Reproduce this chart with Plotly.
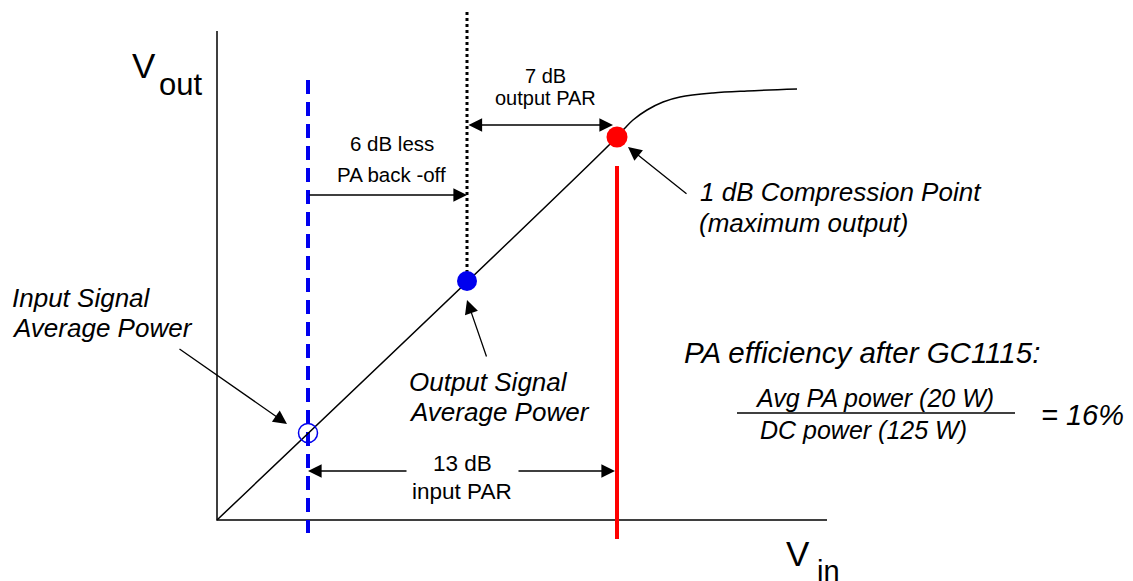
import plotly.graph_objects as go

# ---- data (conceptual Vin / Vout units, origin at the axes corner) ----
curve_vin = [0, 400, 408, 416, 430, 446, 463, 496, 530, 580]
curve_vout = [0, 383, 392, 400, 410, 418, 423, 427, 429, 431]

point_names = ["Input Signal Average Power", "Output Signal Average Power", "1 dB Compression Point"]
point_vin = [91, 250, 400]
point_vout = [87, 239, 383]

par_labels = ["13 dB", "input PAR", "7 dB", "output PAR", "6 dB less", "PA back -off"]
axis_labels = ["V", "out", "V", "in"]
eff_title = "PA efficiency after GC1115:"
eff_num = "Avg PA power (20 W)"
eff_den = "DC power (125 W)"
eff_result = "= 16%"

FONT = "Arial, Liberation Sans, sans-serif"

fig = go.Figure()

# axes of the diagram
fig.add_trace(go.Scatter(x=[0, 0, 610], y=[489, 0, 0], mode="lines",
                         line=dict(color="black", width=1.5), hoverinfo="skip"))

# reference verticals
fig.add_trace(go.Scatter(x=[point_vin[0], point_vin[0]], y=[440, -13], mode="lines",
                         line=dict(color="#0000ee", width=4, dash="14px,8px"), hoverinfo="skip"))
fig.add_trace(go.Scatter(x=[point_vin[1], point_vin[1]], y=[508, point_vout[1]], mode="lines",
                         line=dict(color="black", width=3, dash="dot"), hoverinfo="skip"))
fig.add_trace(go.Scatter(x=[point_vin[2], point_vin[2]], y=[354, -19], mode="lines",
                         line=dict(color="#ff0000", width=4), hoverinfo="skip"))

# transfer curve
fig.add_trace(go.Scatter(x=curve_vin, y=curve_vout, mode="lines", line_shape="spline",
                         line=dict(color="black", width=1.5), hoverinfo="skip"))

# operating points
fig.add_trace(go.Scatter(x=[point_vin[0]], y=[point_vout[0]], mode="markers",
                         marker=dict(size=19, color="rgba(0,0,0,0)",
                                     line=dict(color="#0000ee", width=1.5)),
                         name=point_names[0]))
fig.add_trace(go.Scatter(x=[point_vin[1]], y=[point_vout[1]], mode="markers",
                         marker=dict(size=20, color="#0000ee"), name=point_names[1]))
fig.add_trace(go.Scatter(x=[point_vin[2]], y=[point_vout[2]], mode="markers",
                         marker=dict(size=21, color="#ff0000"), name=point_names[2]))

ann = []
def arrow(x, y, ax, ay, both=False):
    d = dict(x=x, y=y, ax=ax, ay=ay, xref="x", yref="y", axref="x", ayref="y",
             text="", showarrow=True, arrowhead=2, arrowsize=2.1, arrowwidth=1.3,
             arrowcolor="black", standoff=0, startstandoff=0)
    if both:
        d.update(arrowside="end+start", startarrowhead=2, startarrowsize=2.1)
    ann.append(d)

def text(x, y, s, size, xanchor="center", italic=False):
    ann.append(dict(x=x, y=y, xref="x", yref="y", text=s, showarrow=False,
                    xanchor=xanchor, yanchor="middle",
                    font=dict(family=FONT, size=size, color="black",
                              style="italic" if italic else "normal")))

# PAR dimension arrows
arrow(point_vin[2] - 4, 395, point_vin[1], 395, both=True)      # 7 dB output PAR
arrow(point_vin[1], 325, point_vin[0], 325)                      # 6 dB less back-off
arrow(point_vin[0], 49, 191, 49)                                 # 13 dB left half
arrow(point_vin[2] - 2, 49, 300, 49)                             # 13 dB right half

# callout arrows
arrow(70, 96, -39, 172)
arrow(point_vin[1], 220, 270, 162)
arrow(411, 373, 471, 325)

# labels
text(328, 444, par_labels[2], 20)
text(328, 422, par_labels[3], 20)
text(175, 377, par_labels[4], 20.5)
text(174, 346, par_labels[5], 20.5)
text(245, 57, par_labels[0], 22.5)
text(245, 29, par_labels[1], 22.5)

text(-207, 222, "Input Signal", 26, "left", True)
text(-207, 192, "Average Power", 26, "left", True)
text(190, 138, "Output Signal", 26, "left", True)
text(190, 108, "Average Power", 26, "left", True)
text(481, 328, "1 dB Compression Point", 26, "left", True)
text(480, 297, "(maximum output)", 26, "left", True)

text(465, 168, eff_title, 29.5, "left", True)
text(657, 122, eff_num, 25, "center", True)
text(646, 90, eff_den, 25, "center", True)
text(822, 105, eff_result, 29, "left", True)

# axis titles
text(-73, 455, axis_labels[0], 35)
text(-60, 436, axis_labels[1], 31, "left")
text(581, -33, axis_labels[2], 35)
text(598, -51, axis_labels[3], 29, "left")

fig.update_layout(
    width=1133, height=581,
    margin=dict(l=0, r=0, t=0, b=0),
    paper_bgcolor="white", plot_bgcolor="white",
    showlegend=False,
    xaxis=dict(range=[-217, 916], visible=False, fixedrange=True),
    yaxis=dict(range=[-61, 520], visible=False, fixedrange=True),
    annotations=ann,
    shapes=[dict(type="line", xref="x", yref="y", x0=520, x1=798, y0=107, y1=107,
                 line=dict(color="black", width=1.3))],
)

fig.write_html("out.html", config={"displayModeBar": False},
               post_script="document.body.style.margin='0px';document.body.style.overflow='hidden';")
